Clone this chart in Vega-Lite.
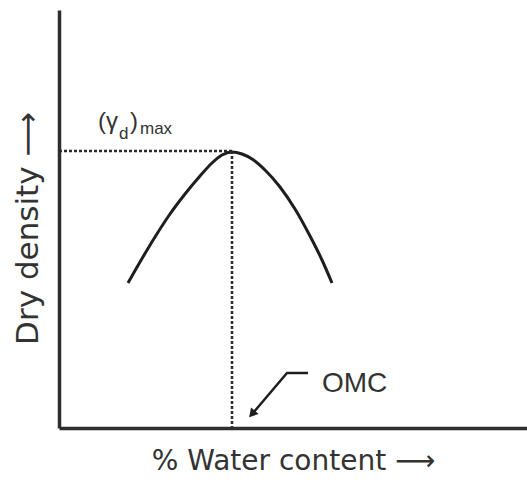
{
  "$schema": "https://vega.github.io/schema/vega-lite/v6.json",
  "width": 468,
  "height": 418,
  "autosize": {"type": "none"},
  "padding": {"left": 59, "top": 10, "right": 0, "bottom": 58},
  "background": "white",
  "config": {"view": {"stroke": null}},
  "layer": [
    {
      "data": {"values": [
        {"w": 69, "d": 145}, {"w": 81, "d": 166}, {"w": 96, "d": 191}, {"w": 111, "d": 214},
        {"w": 126, "d": 234}, {"w": 141, "d": 252}, {"w": 153, "d": 265}, {"w": 163, "d": 273},
        {"w": 173, "d": 276}, {"w": 183, "d": 274}, {"w": 193, "d": 269}, {"w": 206, "d": 258},
        {"w": 221, "d": 241}, {"w": 236, "d": 219}, {"w": 251, "d": 192}, {"w": 263, "d": 168},
        {"w": 273, "d": 145}
      ]},
      "mark": {"type": "line", "color": "#1e1e1e", "strokeWidth": 3, "interpolate": "monotone"},
      "encoding": {
        "x": {"field": "w", "type": "quantitative", "scale": {"domain": [0, 468], "nice": false},
          "axis": {"title": "% Water content ⟶", "ticks": false, "labels": false, "grid": false,
            "domainColor": "#2e2e2e", "domainWidth": 3.5, "titleFont": "DejaVu Sans", "titleFontSize": 28,
            "titleFontWeight": "normal", "titleColor": "#333333", "titlePadding": 19}},
        "y": {"field": "d", "type": "quantitative", "scale": {"domain": [0, 418], "nice": false},
          "axis": {"title": "Dry density ⟶", "ticks": false, "labels": false, "grid": false,
            "domainColor": "#2e2e2e", "domainWidth": 3.5, "titleFont": "DejaVu Sans", "titleFontSize": 31,
            "titleFontWeight": "normal", "titleColor": "#333333", "titlePadding": 15, "titleY": 218}}
      }
    },
    {
      "data": {"values": [{"w": 0, "d": 277, "i": 0}, {"w": 173, "d": 277, "i": 1}]},
      "mark": {"type": "line", "color": "#2a2a2a", "strokeWidth": 2.5, "strokeDash": [3, 2]},
      "encoding": {
        "x": {"field": "w", "type": "quantitative"},
        "y": {"field": "d", "type": "quantitative"},
        "order": {"field": "i"}
      }
    },
    {
      "data": {"values": [{"w": 173, "d": 277, "i": 0}, {"w": 173, "d": 0, "i": 1}]},
      "mark": {"type": "line", "color": "#2a2a2a", "strokeWidth": 2.5, "strokeDash": [3, 2]},
      "encoding": {
        "x": {"field": "w", "type": "quantitative"},
        "y": {"field": "d", "type": "quantitative"},
        "order": {"field": "i"}
      }
    },
    {
      "data": {"values": [{"w": 249, "d": 55, "i": 0}, {"w": 228, "d": 55, "i": 1}, {"w": 194, "d": 15, "i": 2}]},
      "mark": {"type": "line", "color": "#1e1e1e", "strokeWidth": 2.5},
      "encoding": {
        "x": {"field": "w", "type": "quantitative"},
        "y": {"field": "d", "type": "quantitative"},
        "order": {"field": "i"}
      }
    },
    {
      "data": {"values": [{"w": 193, "d": 14}]},
      "mark": {"type": "point", "shape": "triangle-up", "filled": true, "color": "#1e1e1e", "size": 100, "angle": 221, "opacity": 1},
      "encoding": {
        "x": {"field": "w", "type": "quantitative"},
        "y": {"field": "d", "type": "quantitative"}
      }
    },
    {
      "data": {"values": [{"w": 263, "d": 36, "t": "OMC"}]},
      "mark": {"type": "text", "font": "Liberation Sans", "fontSize": 28, "align": "left", "baseline": "alphabetic", "color": "#333333"},
      "encoding": {
        "x": {"field": "w", "type": "quantitative"},
        "y": {"field": "d", "type": "quantitative"},
        "text": {"field": "t"}
      }
    },
    {
      "data": {"values": [{"w": 39, "d": 299, "t": "(γ"}, {"w": 71, "d": 299, "t": ")"}]},
      "mark": {"type": "text", "font": "Liberation Sans", "fontSize": 24, "align": "left", "baseline": "alphabetic", "color": "#333333"},
      "encoding": {
        "x": {"field": "w", "type": "quantitative"},
        "y": {"field": "d", "type": "quantitative"},
        "text": {"field": "t"}
      }
    },
    {
      "data": {"values": [{"w": 60, "d": 289, "t": "d"}, {"w": 81, "d": 294, "t": "max"}]},
      "mark": {"type": "text", "font": "Liberation Sans", "fontSize": 17, "align": "left", "baseline": "alphabetic", "color": "#333333"},
      "encoding": {
        "x": {"field": "w", "type": "quantitative"},
        "y": {"field": "d", "type": "quantitative"},
        "text": {"field": "t"}
      }
    }
  ]
}
